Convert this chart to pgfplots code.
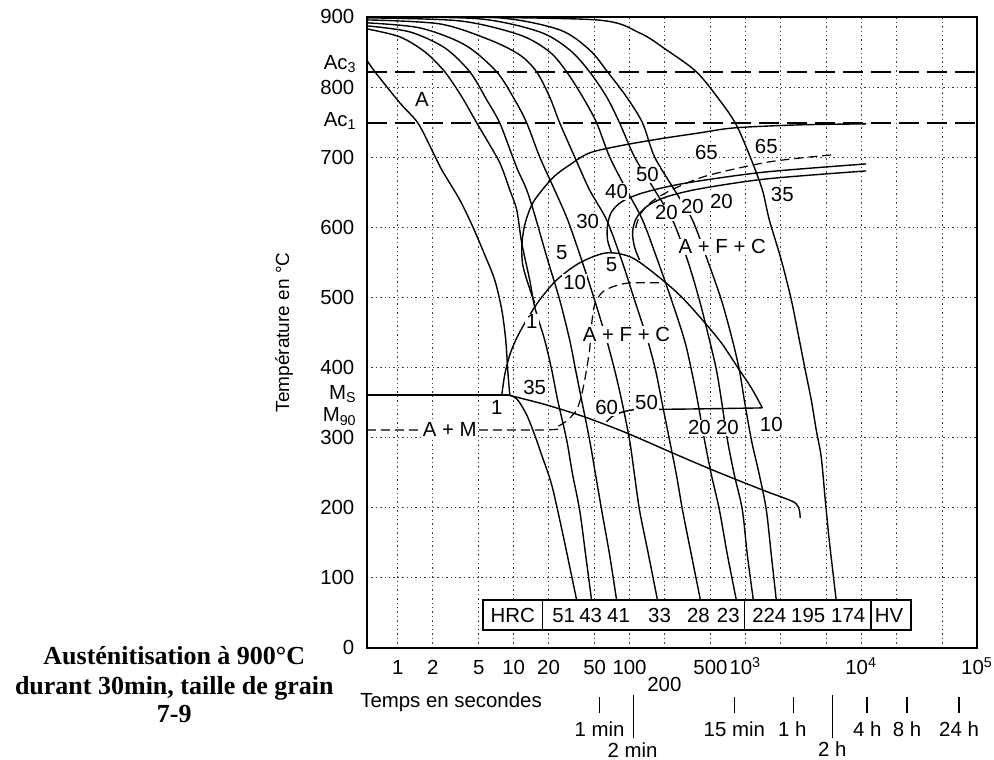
\documentclass[border=0pt]{standalone}
\usepackage{fontspec}
\setmainfont{Liberation Sans}
\newfontfamily\tnr{Liberation Serif}
\usepackage{pgfplots}
\pgfplotsset{compat=1.18}
\newcommand\lblfont{\fontsize{10.2}{12}\selectfont}

\begin{document}
\begin{tikzpicture}[
  cc/.style={black, line width=0.7pt, smooth, tension=0.5},
  acl/.style={black, line width=0.7pt, dash pattern=on 10pt off 4pt},
  sd/.style={black, line width=0.6pt, dash pattern=on 4.5pt off 2.5pt, smooth, tension=0.5},
  lb/.style={font=\lblfont, fill=white, inner sep=0.6pt},
  tx/.style={font=\lblfont, anchor=base, inner sep=0pt},
  tk/.style={line width=0.7pt},
  captxt/.style={font=\tnr\bfseries\fontsize{13}{15}\selectfont, anchor=base, inner sep=0pt},
]
\begin{axis}[
  scale only axis, width=305pt, height=315.5pt,
  xmin=-0.267, xmax=5, ymin=0, ymax=900,
  clip=false, no markers,
  axis line style={line width=0.9pt},
  xtick={0,0.30103,0.69897,1,1.30103,1.69897,2,2.30103,2.69897,3,3.30103,3.69897,4,4.30103,4.69897,5},
  xticklabels={1,2,5,10,20,50,100,,500,10\textsuperscript{3},,,10\textsuperscript{4},,,10\textsuperscript{5}},
  ytick={0,100,...,900},
  yticklabels={0,100,200,300,400,500,600,700,800,900},
  major tick length=0pt, tick style={draw=none},
  grid=major,
  grid style={black!75, line width=0.5pt, dash pattern=on 0.7pt off 1.5pt},
  tick label style={font=\lblfont},
  xticklabel style={anchor=base, yshift=-13.5pt},
  yticklabel style={anchor=east, xshift=-2.8pt},
]
% Ac3 / Ac1
\addplot[acl] coordinates {(-0.267,821.7) (5,821.7)};
\addplot[acl] coordinates {(-0.267,748.9) (5,748.9)};

% cooling curves
\addplot[cc] coordinates {(-0.267,838) (-0.198,821.7) (0.017,777.4) (0.172,748.9) (0.293,710.4) (0.379,681.9) (0.534,639.1) (0.647,600.6) (0.750,560.6) (0.836,524.9) (0.897,482.2) (0.931,439.4) (0.948,396.6) (0.966,360.9)};
\addplot[cc] coordinates {(0.966,360.9) (1.034,353.8) (1.112,332.4) (1.181,303.8) (1.241,275.3) (1.328,232.5) (1.422,164.0) (1.543,68.5)};
\addplot[cc] coordinates {(-0.267,883.0) (0.017,871.6) (0.233,850.2) (0.405,821.7) (0.552,786.0) (0.681,748.9) (0.853,700.4) (0.905,681.9) (0.966,653.3) (1.026,624.8) (1.069,577.7) (1.138,524.9) (1.181,486.4) (1.267,439.4) (1.328,396.6) (1.379,353.8) (1.457,296.7) (1.509,246.8) (1.569,196.9) (1.621,132.7) (1.672,68.5)};
\addplot[cc] coordinates {(-0.267,887.3) (0.103,878.7) (0.405,855.9) (0.621,821.7) (0.767,781.7) (0.879,748.9) (0.991,700.4) (1.034,681.9) (1.112,653.3) (1.181,617.7) (1.293,553.5) (1.397,496.4) (1.483,439.4) (1.534,396.6) (1.586,353.8) (1.655,296.7) (1.707,246.8) (1.759,196.9) (1.828,132.7) (1.888,68.5)};
\addplot[cc] coordinates {(-0.267,891.6) (0.190,884.4) (0.578,860.2) (0.853,821.7) (1.009,781.7) (1.112,748.9) (1.224,700.4) (1.353,653.3) (1.466,610.5) (1.586,553.5) (1.698,496.4) (1.802,439.4) (1.871,396.6) (1.931,353.8) (2.000,296.7) (2.043,246.8) (2.086,196.9) (2.164,132.7) (2.241,68.5)};
\addplot[cc] coordinates {(-0.267,895.8) (0.362,890.1) (0.793,867.3) (1.052,845.9) (1.198,821.7) (1.310,786.0) (1.397,748.9) (1.526,700.4) (1.655,653.3) (1.802,610.5) (1.931,553.5) (2.043,496.4) (2.155,439.4) (2.224,396.6) (2.276,353.8) (2.345,296.7) (2.405,246.8) (2.457,196.9) (2.534,132.7) (2.612,68.5)};
\addplot[cc] coordinates {(-0.267,898.7) (0.534,894.4) (1.052,874.4) (1.310,850.2) (1.457,821.7) (1.595,786.0) (1.716,748.9) (1.828,700.4) (1.974,653.3) (2.112,610.5) (2.241,553.5) (2.362,496.4) (2.474,439.4) (2.534,396.6) (2.586,353.8) (2.647,296.7) (2.707,246.8) (2.776,196.9) (2.845,132.7) (2.922,68.5)};
\addplot[cc] coordinates {(-0.155,900) (0.707,897.3) (1.224,878.7) (1.483,853.0) (1.655,821.7) (1.802,786.0) (1.914,748.9) (2.043,700.4) (2.216,653.3) (2.371,610.5) (2.500,553.5) (2.603,496.4) (2.690,439.4) (2.750,396.6) (2.793,353.8) (2.845,296.7) (2.905,246.8) (2.974,196.9) (3.017,132.7) (3.069,68.5)};
\addplot[cc] coordinates {(0.017,900) (0.879,898.7) (1.397,881.6) (1.655,853.0) (1.810,821.7) (1.974,786.0) (2.112,748.9) (2.216,700.4) (2.388,653.3) (2.543,610.5) (2.672,553.5) (2.793,496.4) (2.888,439.4) (2.948,396.6) (2.991,353.8) (3.052,296.7) (3.121,246.8) (3.181,196.9) (3.224,132.7) (3.267,68.5)};
\addplot[cc] coordinates {(0.362,900) (1.716,895.8) (2.086,877.3) (2.319,853.0) (2.578,821.7) (2.776,781.7) (2.922,746.1) (3.052,696.1) (3.147,653.3) (3.207,610.5) (3.310,553.5) (3.397,496.4) (3.466,439.4) (3.517,396.6) (3.569,353.8) (3.612,311.0) (3.655,272.5) (3.690,211.1) (3.724,154.1) (3.759,104.1) (3.784,68.5)};

% Ms line
\addplot[black, line width=0.7pt] coordinates {(-0.267,360.9) (0.948,360.9)};
\addplot[cc] coordinates {(0.948,360.9) (1.052,356.6) (1.284,346.6) (1.612,329.5) (1.974,306.7) (2.371,278.2) (2.716,253.9) (3.147,225.4) (3.379,211.1) (3.440,205.4) (3.466,196.9) (3.474,185.4)};

% bainite domain
\addplot[cc] coordinates {(0.897,360.9) (0.922,389.4) (0.966,418.0) (1.026,442.2) (1.112,467.9) (1.224,496.4) (1.371,524.9) (1.569,549.2) (1.802,563.5) (2.026,556.3) (2.284,524.9) (2.457,499.3) (2.629,467.9) (2.793,435.1) (2.948,396.6) (3.052,370.9) (3.147,342.4)};
\addplot[cc] coordinates {(3.147,342.4) (2.6,341.0) (2.2,340.2) (2.026,339.5) (1.914,335.2) (1.845,329.5) (1.802,322.4)};

% ferrite / pearlite start and end
\addplot[cc] coordinates {(1.181,492.1) (1.121,520.7) (1.078,546.3) (1.069,570.6) (1.086,596.3) (1.121,617.7) (1.181,639.1) (1.336,670.5) (1.483,689.0) (1.655,706.1) (1.914,716.1) (2.259,726.1) (2.603,734.6) (2.905,741.8) (3.466,746.1) (4.043,747.5)};
\addplot[cc] coordinates {(1.845,563.5) (1.810,582.0) (1.810,603.4) (1.845,622.0) (1.931,636.3) (2.086,647.6) (2.319,657.6) (2.603,666.2) (3.181,679.0) (4.043,690.4)};
\addplot[cc] coordinates {(2.086,553.5) (2.043,572.0) (2.026,593.4) (2.060,613.4) (2.155,630.5) (2.319,643.4) (2.603,654.8) (3.181,669.0) (4.043,680.4)};
\addplot[sd] coordinates {(2.052,599.1) (2.095,619.1) (2.190,636.3) (2.362,653.3) (2.664,673.3) (3.207,693.3) (3.750,703.3)};

% M90 and bainite 50 % line
\addplot[sd] coordinates {(-0.267,311.0) (1.250,311.0) (1.371,315.3) (1.466,325.2) (1.543,339.5) (1.586,360.9) (1.621,389.4) (1.655,425.1) (1.672,460.8) (1.698,489.3) (1.759,506.4) (1.853,515.0) (2.000,520.7) (2.284,520.7)};

% labels in the diagram
\node[lb] at (axis cs:0.207,781.7) {A};
\node[lb] at (axis cs:2.664,706.1) {65};
\node[lb] at (axis cs:3.181,714.7) {65};
\node[lb] at (axis cs:2.155,674.7) {50};
\node[lb] at (axis cs:1.888,650.5) {40};
\node[lb] at (axis cs:1.638,607.7) {30};
\node[lb] at (axis cs:2.319,620.5) {20};
\node[lb] at (axis cs:2.543,629.1) {20};
\node[lb] at (axis cs:2.793,636.2) {20};
\node[lb] at (axis cs:3.319,646.2) {35};
\node[lb] at (axis cs:2.800,572.0) {A + F + C};
\node[lb] at (axis cs:1.414,563.5) {5};
\node[lb] at (axis cs:1.845,546.3) {5};
\node[lb] at (axis cs:1.526,520.7) {10};
\node[lb] at (axis cs:1.155,465.0) {1};
\node[lb] at (axis cs:1.974,446.5) {A + F + C};
\node[lb] at (axis cs:1.181,370.9) {35};
\node[lb] at (axis cs:0.853,342.4) {1};
\node[lb] at (axis cs:1.802,342.4) {60};
\node[lb] at (axis cs:2.147,349.5) {50};
\node[lb] at (axis cs:2.603,313.8) {20};
\node[lb] at (axis cs:2.845,313.8) {20};
\node[lb] at (axis cs:3.224,318.1) {10};
\node[lb] at (axis cs:0.448,311.0) {A + M};

% hardness box
\draw[line width=0.8pt, fill=white] (axis cs:0.733,25.7) rectangle (axis cs:4.431,68.5);
\draw[line width=0.8pt] (axis cs:1.25,25.7) -- (axis cs:1.25,68.5);
\draw[line width=0.8pt] (axis cs:2.991,25.7) -- (axis cs:2.991,68.5);
\draw[line width=0.8pt] (axis cs:4.086,25.7) -- (axis cs:4.086,68.5);
\node[tx] at (axis cs:0.991,37) {HRC};
\node[tx] at (axis cs:1.431,37) {51};
\node[tx] at (axis cs:1.664,37) {43};
\node[tx] at (axis cs:1.905,37) {41};
\node[tx] at (axis cs:2.259,37) {33};
\node[tx] at (axis cs:2.595,37) {28};
\node[tx] at (axis cs:2.853,37) {23};
\node[tx] at (axis cs:3.207,37) {224};
\node[tx] at (axis cs:3.543,37) {195};
\node[tx] at (axis cs:3.888,37) {174};
\node[tx] at (axis cs:4.241,37) {HV};

% left-hand labels
\node[font=\lblfont, anchor=base east, inner sep=0pt] at (axis cs:-0.353,824.5) {Ac\textsubscript{3}};
\node[font=\lblfont, anchor=base east, inner sep=0pt] at (axis cs:-0.353,743.2) {Ac\textsubscript{1}};
\node[font=\lblfont, anchor=base east, inner sep=0pt] at (axis cs:-0.353,353.8) {M\textsubscript{S}};
\node[font=\lblfont, anchor=base east, inner sep=0pt] at (axis cs:-0.353,322.4) {M\textsubscript{90}};
\node[font=\fontsize{9.5}{11}\selectfont, rotate=90] at (axis cs:-0.983,450) {Température en °C};

% extra tick label and time scale
\node[tx] at (axis cs:2.30103,-62.8) {200};
\node[font=\lblfont, anchor=base west, inner sep=0pt] at (axis cs:-0.328,-85.6) {Temps en secondes};
\draw[tk] (axis cs:1.741,-69.9) -- (axis cs:1.741,-92.7);
\draw[tk] (axis cs:2.905,-69.9) -- (axis cs:2.905,-92.7);
\draw[tk] (axis cs:3.414,-69.9) -- (axis cs:3.414,-92.7);
\draw[tk] (axis cs:4.052,-69.9) -- (axis cs:4.052,-92.7);
\draw[tk] (axis cs:4.397,-69.9) -- (axis cs:4.397,-92.7);
\draw[tk] (axis cs:4.845,-69.9) -- (axis cs:4.845,-92.7);
\draw[tk] (axis cs:2.034,-67) -- (axis cs:2.034,-128.4);
\draw[tk] (axis cs:3.75,-67) -- (axis cs:3.75,-128.4);
\node[tx] at (axis cs:1.741,-127) {1 min};
\node[tx] at (axis cs:2.905,-127) {15 min};
\node[tx] at (axis cs:3.405,-127) {1 h};
\node[tx] at (axis cs:4.052,-127) {4 h};
\node[tx] at (axis cs:4.397,-127) {8 h};
\node[tx] at (axis cs:4.845,-127) {24 h};
\node[tx] at (axis cs:2.026,-156.5) {2 min};
\node[tx] at (axis cs:3.75,-154.5) {2 h};

% caption block
\node[captxt] at (axis cs:-1.931,-24.3) {Austénitisation à 900°C};
\node[captxt] at (axis cs:-1.931,-67.0) {durant 30min, taille de grain};
\node[captxt] at (axis cs:-1.931,-107.0) {7-9};

\coordinate (bl) at (axis cs:-3.436,-159.7);
\coordinate (tr) at (axis cs:5.147,924.2);
\end{axis}
\pgfresetboundingbox
\path[use as bounding box] (bl) rectangle (tr);
\end{tikzpicture}
\end{document}
